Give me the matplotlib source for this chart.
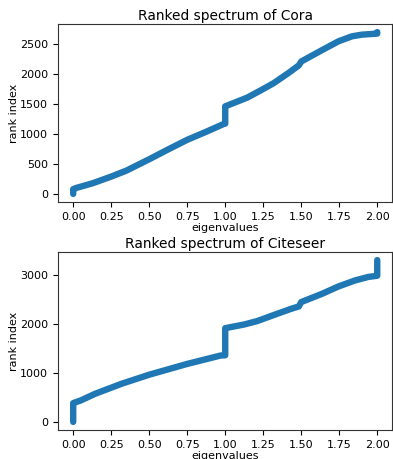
import numpy as np
import matplotlib
matplotlib.use("Agg")
import matplotlib.pyplot as plt

# sorted eigenvalues vs rank index, key points
cora_eig = [0.0, 0.0, 0.02, 0.13, 0.25, 0.35, 0.5, 0.625, 0.75, 0.875, 0.99, 1.0,
            1.0, 1.145, 1.25, 1.32, 1.42, 1.484, 1.5, 1.64, 1.745, 1.833, 1.898,
            1.99, 2.0, 2.0]
cora_rank = [0, 80, 100, 180, 290, 390, 580, 745, 905, 1040, 1170, 1175,
             1465, 1611, 1755, 1855, 2030, 2150, 2215, 2410, 2553, 2636, 2664,
             2680, 2682, 2707]

cite_eig = [0.0, 0.0, 0.05, 0.142, 0.317, 0.5, 0.75, 0.97, 1.0, 1.0, 1.124, 1.21,
            1.32, 1.43, 1.484, 1.5, 1.636, 1.745, 1.855, 1.94, 1.99, 2.0, 2.0]
cite_rank = [0, 385, 440, 573, 780, 967, 1188, 1360, 1365, 1920, 1995, 2065,
             2190, 2313, 2365, 2455, 2623, 2775, 2899, 2969, 2990, 2995, 3315]

titles = ["Ranked spectrum of Cora", "Ranked spectrum of Citeseer"]

fig = plt.figure(figsize=(3.93, 4.59), dpi=100)
ax1 = fig.add_axes([0.1476, 0.5599, 0.851, 0.3878])
ax2 = fig.add_axes([0.1476, 0.0632, 0.851, 0.3878])

for ax, x, y, t in [(ax1, cora_eig, cora_rank, titles[0]),
                    (ax2, cite_eig, cite_rank, titles[1])]:
    ax.plot(x, y, color="#1f77b4", lw=4.6, solid_capstyle="round",
            solid_joinstyle="round")
    ax.set_title(t, fontsize=9.9, pad=3)
    ax.set_xlabel("eigenvalues", fontsize=8, labelpad=1)
    ax.set_ylabel("rank index", fontsize=8, labelpad=1)
    ax.set_xticks([0, 0.25, 0.5, 0.75, 1.0, 1.25, 1.5, 1.75, 2.0])
    ax.tick_params(labelsize=8)
    ax.margins(0.05)
    ax.set_xlim(-0.1, 2.1)
    for s in ax.spines.values():
        s.set_color("#333333")

ax1.set_yticks([0, 500, 1000, 1500, 2000, 2500])
ax2.set_yticks([0, 1000, 2000, 3000])

fig.savefig("out.png", dpi=100)
